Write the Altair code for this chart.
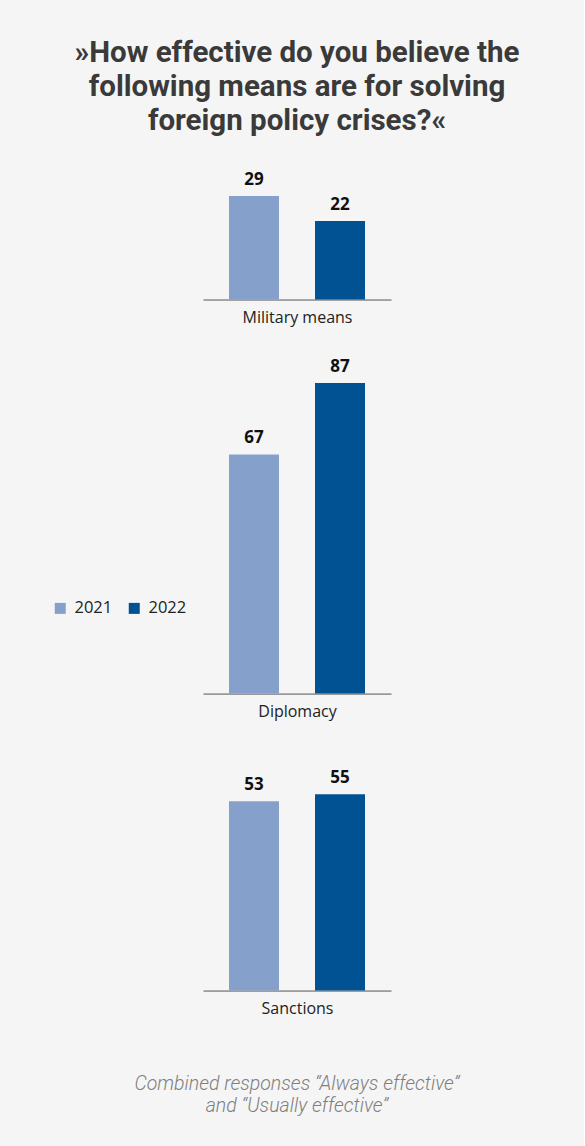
import altair as alt
import pandas as pd

# Survey values (percent) per means and year
categories = ["Military means", "Diplomacy", "Sanctions"]
years = ["2021", "2022"]
values_2021 = [29, 67, 53]
values_2022 = [22, 87, 55]

title_lines = [
    "»How effective do you believe the",
    "following means are for solving",
    "foreign policy crises?«",
]
note_lines = [
    "Combined responses “Always effective”",
    "and “Usually effective”",
]

# Layout: common pixel-per-point scale, per-panel headroom for the value labels
PX_PER_POINT = 3.57
y_tops = [36, 94, 67.1]
colors = ["#85a0ca", "#005293"]
TEXT_FONT = "Open Sans"

panels = []
for i, cat in enumerate(categories):
    df = pd.DataFrame({
        "year": years,
        "value": [values_2021[i], values_2022[i]],
    })
    base = alt.Chart(df).encode(
        x=alt.X(
            "year:N",
            scale=alt.Scale(domain=years, paddingInner=0.4186, paddingOuter=0.302),
            axis=alt.Axis(
                title=cat, labels=False, ticks=False, domain=True,
                domainColor="#555555", domainWidth=1,
                titleFont=TEXT_FONT, titleFontSize=16, titleFontWeight="normal",
                titleColor="#222222", titlePadding=10,
            ),
        ),
        y=alt.Y(
            "value:Q",
            scale=alt.Scale(domain=[0, y_tops[i]], nice=False, zero=True),
            axis=None,
        ),
    )
    bars = base.mark_bar(size=50).encode(
        color=alt.Color(
            "year:N",
            scale=alt.Scale(domain=years, range=colors),
            legend=alt.Legend(
                title=None, orient="none", direction="horizontal",
                legendX=-151, legendY=429, symbolType="square", symbolSize=121,
                symbolStrokeWidth=0, labelFont=TEXT_FONT, labelFontSize=16.5,
                labelColor="#222222", labelOffset=6, columnPadding=13, padding=0,
            ),
        )
    )
    labels = base.mark_text(
        dy=-7, baseline="bottom", font=TEXT_FONT, fontSize=17,
        fontWeight="bold", color="#111111",
    ).encode(text="value:Q")
    props = dict(width=188, height=y_tops[i] * PX_PER_POINT)
    if i == len(categories) - 1:
        props["title"] = alt.TitleParams(
            note_lines, orient="bottom", anchor="middle", font="Roboto",
            fontSize=19.5, fontStyle="italic", fontWeight=300, color="#7f7f7f",
            lineHeight=22, offset=58,
        )
    panels.append(alt.layer(bars, labels).properties(**props))

chart = alt.vconcat(*panels, spacing=31).properties(
    title=alt.TitleParams(
        title_lines, anchor="middle", frame="group", font="Roboto",
        fontSize=29.5, fontWeight="bold", color="#3a3a3a", lineHeight=34,
        offset=34,
    ),
    background="#f5f5f5",
    padding={"left": 52, "top": 38, "right": 64, "bottom": 30},
).configure_view(stroke=None)

chart.save("out.html", embed_options={"renderer": "svg", "actions": False})
